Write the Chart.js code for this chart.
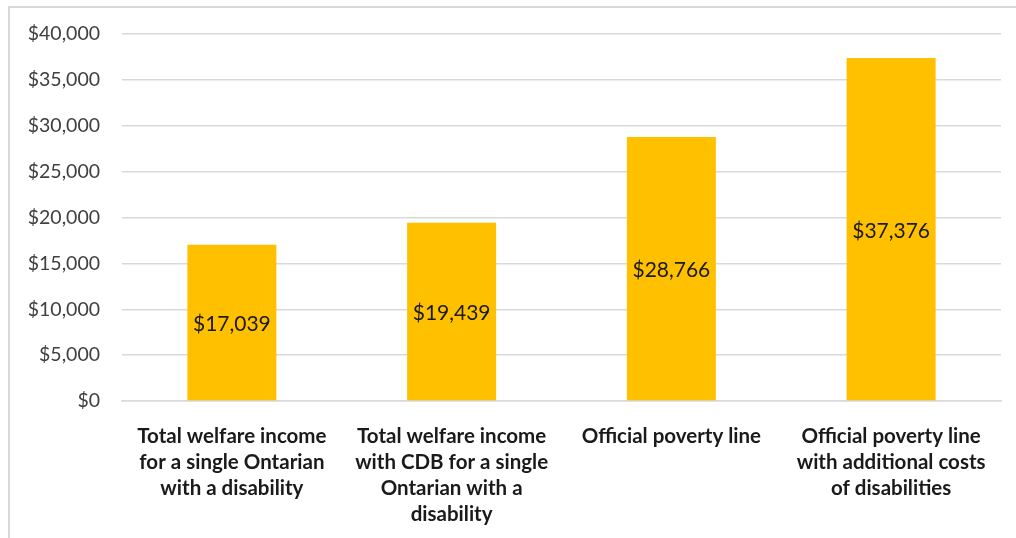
<!DOCTYPE html>
<html>
<head>
<meta charset="utf-8">
<script src="https://cdn.jsdelivr.net/npm/chart.js@4/dist/chart.umd.min.js"></script>
<style>
  html, body { margin: 0; padding: 0; background: #fff; }
  #wrap { position: relative; width: 1016px; height: 538px; overflow: hidden; }
  #frame { position: absolute; left: 8px; top: 6px; width: 1100px; height: 600px;
           border-left: 2px solid #d9d9d9; border-top: 2px solid #d9d9d9; box-sizing: border-box; }
  canvas { position: absolute; left: 0; top: 0; }
</style>
</head>
<body>
<div id="wrap">
  <div id="frame"></div>
  <canvas id="incomeChart" width="1016" height="538"></canvas>
</div>
<script>
// data
const categories = [
    ["Total welfare income", "for a single Ontarian", "with a disability"],
    ["Total welfare income", "with CDB for a single", "Ontarian with a", "disability"],
    ["Official poverty line"],
    ["Official poverty line", "with additional costs", "of disabilities"]
];
const amounts = [17039, 19439, 28766, 37376];
const yTicks = [0, 5000, 10000, 15000, 20000, 25000, 30000, 35000, 40000];

const FONT = "Lato, 'Open Sans', sans-serif";
const money = v => "$" + v.toLocaleString("en-US");

// value labels in the middle of each bar
const centerLabels = {
    id: "centerLabels",
    afterDatasetsDraw(chart) {
        const ctx = chart.ctx;
        const meta = chart.getDatasetMeta(0);
        ctx.save();
        ctx.font = "21px " + FONT;
        ctx.fillStyle = "#1a1a1a";
        ctx.textAlign = "center";
        ctx.textBaseline = "middle";
        meta.data.forEach((bar, i) => {
            const p = bar.getProps(["x", "y", "base"], true);
            ctx.fillText(money(amounts[i]), p.x, (p.y + p.base) / 2 + 2);
        });
        ctx.restore();
    }
};

new Chart(document.getElementById("incomeChart"), {
    type: "bar",
    data: {
        labels: categories,
        datasets: [{
            data: amounts,
            backgroundColor: "#FFC000",
            borderWidth: 0,
            categoryPercentage: 1,
            barPercentage: 0.405
        }]
    },
    options: {
        responsive: false,
        animation: false,
        layout: { padding: { top: 34, right: 15, left: 0, bottom: 0 } },
        plugins: { legend: { display: false }, tooltip: { enabled: false } },
        scales: {
            x: {
                afterFit: s => { s.height = 137; },
                grid: { display: false, drawTicks: false },
                border: { display: true, color: "#d9d9d9", width: 1.5 },
                ticks: {
                    color: "#1a1a1a",
                    padding: 22,
                    maxRotation: 0,
                    autoSkip: false,
                    font: { family: FONT, size: 20.5, weight: "bold", lineHeight: 1.28 }
                }
            },
            y: {
                min: 0,
                max: 40000,
                afterFit: s => { s.width = 122; },
                afterBuildTicks: s => { s.ticks = yTicks.map(v => ({ value: v })); },
                grid: { color: "#d9d9d9", lineWidth: 1.5, drawTicks: false },
                border: { display: false },
                ticks: {
                    color: "#404040",
                    padding: 22,
                    font: { family: FONT, size: 19.5 },
                    callback: v => money(v)
                }
            }
        }
    },
    plugins: [centerLabels]
});
</script>
</body>
</html>
